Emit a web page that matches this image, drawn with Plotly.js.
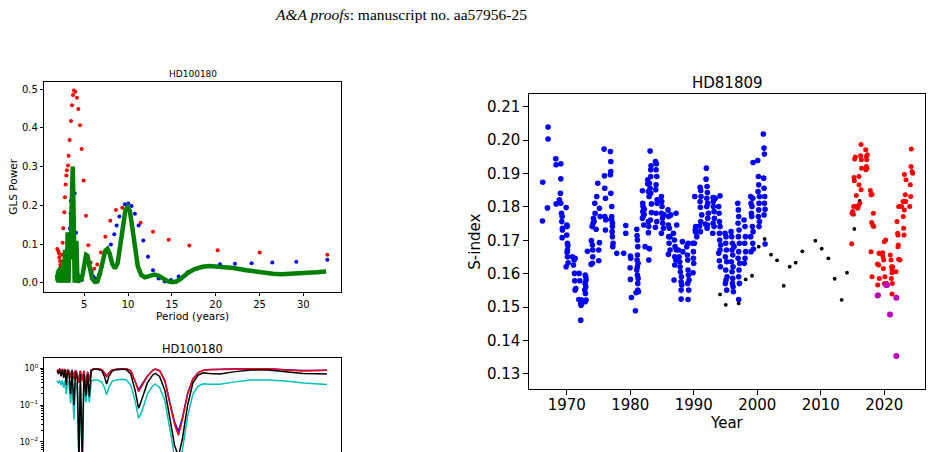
<!DOCTYPE html>
<html>
<head>
<meta charset="utf-8">
<script src="https://cdn.plot.ly/plotly-3.0.1.min.js"></script>
<style>
  html, body { margin: 0; padding: 0; background: #fff; overflow: hidden; }
  #fig { width: 932px; height: 452px; }
</style>
</head>
<body>
<div id="fig"></div>
<script>
// ---------- HD100180: GLS periodogram ----------
const glsRedPeriod = [1.92, 2.03, 2.11, 2.15, 2.22, 2.26, 2.34, 2.45, 2.53, 2.60, 2.72, 2.79, 2.87, 2.95, 3.02, 3.14, 3.21, 3.33, 3.48, 3.59, 3.71, 3.82, 3.97, 4.16, 4.32, 4.51, 4.70, 4.92, 5.19, 5.46, 5.72, 6.14, 6.48, 6.90, 7.40, 7.97, 8.61, 9.34, 11.43, 12.84, 14.63, 16.99, 20.22, 25.02, 32.74];
const glsRedPower  = [0.087, 0.082, 0.076, 0.066, 0.056, 0.046, 0.041, 0.072, 0.103, 0.141, 0.182, 0.221, 0.254, 0.277, 0.291, 0.303, 0.328, 0.369, 0.418, 0.459, 0.485, 0.497, 0.494, 0.478, 0.449, 0.407, 0.346, 0.264, 0.173, 0.097, 0.052, 0.036, 0.047, 0.078, 0.119, 0.160, 0.188, 0.194, 0.155, 0.132, 0.111, 0.096, 0.084, 0.078, 0.072];

const glsBluePeriod = [3.36, 3.44, 3.48, 3.90, 4.05, 4.20, 4.35, 4.73, 5.38, 5.57, 5.84, 6.03, 6.26, 6.64, 6.98, 8.04, 8.42, 8.69, 9.00, 9.64, 10.02, 10.40, 10.78, 11.20, 11.74, 12.27, 12.84, 13.49, 14.17, 14.89, 15.77, 16.80, 20.49, 22.20, 24.10, 26.46, 29.20, 32.74];
const glsBluePower  = [0.140, 0.179, 0.212, 0.231, 0.129, 0.024, 0.016, 0.007, 0.060, 0.043, 0.028, 0.016, 0.011, 0.020, 0.041, 0.099, 0.125, 0.148, 0.171, 0.203, 0.205, 0.198, 0.178, 0.148, 0.109, 0.067, 0.032, 0.011, 0.003, 0.007, 0.016, 0.027, 0.048, 0.049, 0.050, 0.052, 0.054, 0.059];

const glsGreenPeriod = [1.90, 1.95, 2.00, 2.05, 2.10, 2.17, 2.25, 2.32, 2.40, 2.50, 2.60, 2.70, 2.80, 2.90, 3.00, 3.10, 3.20, 3.30, 3.40, 3.50, 3.60, 3.68, 3.75, 3.82, 3.90, 4.00, 4.10, 4.20, 4.30, 4.45, 4.60, 4.80, 5.00, 5.20, 5.35, 5.60, 5.90, 6.20, 6.50, 6.80, 7.10, 7.40, 7.65, 7.90, 8.20, 8.50, 8.80, 9.10, 9.40, 9.70, 9.95, 10.20, 10.50, 10.80, 11.10, 11.50, 11.90, 12.40, 13.00, 13.50, 14.00, 14.50, 15.00, 15.50, 16.00, 16.80, 17.60, 18.50, 19.30, 20.50, 22.00, 23.50, 25.00, 26.50, 27.50, 29.00, 30.50, 31.50, 32.60];
const glsGreenPower  = [0.020, 0.005, 0.030, 0.000, 0.035, 0.010, 0.040, 0.000, 0.020, 0.005, 0.060, 0.000, 0.085, 0.000, 0.020, 0.130, 0.000, 0.130, 0.060, 0.150, 0.260, 0.300, 0.220, 0.050, 0.000, 0.090, 0.108, 0.020, 0.000, 0.015, 0.005, 0.020, 0.050, 0.072, 0.070, 0.040, 0.010, 0.002, 0.003, 0.025, 0.060, 0.083, 0.088, 0.075, 0.048, 0.037, 0.050, 0.095, 0.150, 0.188, 0.196, 0.185, 0.140, 0.085, 0.043, 0.020, 0.014, 0.017, 0.021, 0.018, 0.010, 0.004, 0.001, 0.003, 0.010, 0.025, 0.035, 0.041, 0.043, 0.042, 0.038, 0.032, 0.027, 0.023, 0.022, 0.023, 0.025, 0.027, 0.029];

// ---------- HD100180: false-alarm curves ----------
const fapPeriod = [1.90, 2.05, 2.20, 2.35, 2.50, 2.65, 2.80, 2.95, 3.10, 3.25, 3.44, 3.60, 3.82, 4.00, 4.20, 4.39, 4.55, 4.77, 4.95, 5.19, 5.38, 5.57, 5.80, 6.10, 6.50, 7.00, 7.30, 7.55, 7.80, 8.20, 8.70, 9.30, 9.80, 10.30, 10.80, 11.20, 11.60, 12.20, 12.80, 13.10, 13.60, 14.20, 14.80, 15.30, 15.75, 16.20, 16.80, 17.40, 18.00, 18.60, 19.30, 20.50, 22.00, 24.00, 26.00, 28.00, 30.00, 32.70];
const fapBlue  = [0.90, 0.85, 0.95, 0.80, 0.95, 0.78, 0.95, 0.62, 0.93, 0.85, 0.57, 0.90, 0.52, 0.88, 0.70, 0.42, 0.85, 0.47, 0.85, 0.32, 0.80, 0.45, 0.90, 0.97, 0.98, 0.92, 0.76, 0.60, 0.76, 0.90, 0.95, 0.98, 0.97, 0.86, 0.47, 0.26, 0.37, 0.62, 0.88, 0.95, 0.86, 0.47, 0.11, 0.035, 0.019, 0.045, 0.21, 0.52, 0.76, 0.88, 0.93, 0.96, 0.96, 0.97, 0.97, 0.92, 0.87, 0.89];
const fapRed   = [0.90, 0.85, 0.95, 0.80, 0.95, 0.78, 0.95, 0.60, 0.93, 0.85, 0.55, 0.90, 0.50, 0.88, 0.70, 0.40, 0.85, 0.45, 0.85, 0.30, 0.80, 0.45, 0.90, 0.97, 0.98, 0.92, 0.75, 0.59, 0.75, 0.90, 0.95, 0.98, 0.97, 0.85, 0.45, 0.23, 0.35, 0.60, 0.88, 0.95, 0.85, 0.45, 0.10, 0.030, 0.015, 0.040, 0.20, 0.50, 0.75, 0.88, 0.92, 0.95, 0.95, 0.97, 0.97, 0.90, 0.85, 0.88];
const fapBlack = [0.85, 0.70, 0.90, 0.60, 0.90, 0.55, 0.90, 0.35, 0.85, 0.70, 0.20, 0.85, 0.10, 0.80, 0.50, 0.003, 0.70, 0.003, 0.70, 0.18, 0.70, 0.17, 0.85, 0.95, 0.95, 0.85, 0.60, 0.37, 0.60, 0.85, 0.92, 0.95, 0.92, 0.70, 0.25, 0.081, 0.15, 0.40, 0.65, 0.73, 0.60, 0.25, 0.04, 0.008, 0.004, 0.012, 0.10, 0.40, 0.65, 0.75, 0.72, 0.70, 0.80, 0.90, 0.90, 0.80, 0.72, 0.70];
const fapCyan  = [0.45, 0.40, 0.47, 0.35, 0.47, 0.30, 0.47, 0.20, 0.45, 0.38, 0.11, 0.45, 0.04, 0.40, 0.25, 0.002, 0.35, 0.002, 0.35, 0.12, 0.40, 0.12, 0.45, 0.48, 0.48, 0.42, 0.30, 0.19, 0.30, 0.45, 0.48, 0.50, 0.48, 0.35, 0.13, 0.043, 0.07, 0.20, 0.33, 0.37, 0.30, 0.13, 0.02, 0.004, 0.002, 0.006, 0.05, 0.20, 0.33, 0.38, 0.37, 0.37, 0.42, 0.48, 0.48, 0.45, 0.40, 0.36];

// ---------- HD81809: S-index time series ----------
// Mount Wilson seasons (blue)
const blueYear = [
  1966.22, 1966.17, 1967.06, 1967.06, 1966.96, 1968.27, 1968.32, 1968.32,
  1969.06, 1969.06, 1969.00, 1968.85, 1969.06, 1969.16, 1969.27, 1969.21, 1969.32, 1969.32, 1969.27,
  1969.90, 1970.00, 1970.05, 1970.00, 1970.10, 1970.16, 1970.10, 1970.05, 1970.10, 1970.21, 1969.90,
  1970.89, 1971.15, 1971.05, 1971.31, 1971.21, 1971.26, 1971.42, 1971.31,
  1971.94, 1972.05, 1971.89, 1972.20, 1972.26, 1972.36, 1972.20,
  1972.89, 1972.99, 1973.04, 1972.89, 1972.99, 1972.83, 1972.94, 1973.04, 1972.89, 1973.25,
  1973.83, 1973.88, 1974.04, 1974.09, 1974.09, 1974.04, 1973.99, 1974.14, 1974.20, 1974.30,
  1974.41, 1974.46, 1974.62, 1974.72, 1974.88, 1975.14, 1975.25, 1975.04, 1975.14, 1975.04,
  1975.88, 1975.93, 1975.98, 1976.09, 1975.98, 1976.14, 1976.09, 1976.19,
  1976.87, 1976.93, 1976.93, 1976.87, 1976.93, 1977.08, 1977.08, 1977.19, 1977.14, 1977.19, 1977.29, 1977.24, 1977.08, 1977.19,
  1977.87, 1978.97, 1979.29, 1979.29, 1980.02, 1980.07, 1979.97, 1980.02, 1980.18,
  1980.81, 1981.02, 1981.07, 1981.12, 1981.18, 1981.12, 1981.07, 1981.23, 1981.12, 1981.02, 1981.12, 1981.23, 1981.18, 1981.18, 1981.28, 1980.91,
  1981.91, 1981.96, 1982.01, 1981.96, 1982.07, 1981.91, 1982.12, 1982.22, 1982.33, 1982.17,
  1982.75, 1982.75, 1982.85, 1982.96, 1982.85, 1982.91, 1982.85, 1982.91,
  1983.12, 1983.27, 1983.22, 1983.22, 1983.01, 1983.12, 1983.22, 1983.01, 1983.33, 1983.33, 1983.17,
  1983.96, 1984.11, 1984.06, 1984.17, 1984.06, 1984.01, 1984.22, 1984.06, 1984.17, 1983.96, 1984.22,
  1984.90, 1984.95, 1985.00, 1984.90, 1985.06, 1985.11, 1985.22, 1984.90, 1985.32,
  1985.95, 1986.05, 1986.00, 1986.16, 1986.05, 1986.11, 1986.26, 1986.37, 1986.26, 1986.00,
  1986.79, 1986.95, 1987.05, 1987.00, 1987.16, 1987.00, 1987.21, 1987.31, 1987.26, 1986.89,
  1987.58, 1987.68, 1987.79, 1987.84, 1987.89, 1988.05, 1988.00, 1988.00, 1988.00, 1988.10, 1988.21, 1988.26,
  1988.89, 1988.99, 1989.04, 1989.10, 1989.15, 1989.04, 1989.20, 1989.10, 1989.25, 1989.10,
  1989.83, 1989.94, 1989.94, 1989.99, 1989.88, 1990.10, 1990.15, 1990.30, 1990.25, 1990.25, 1990.46,
  1990.99, 1991.09, 1991.14, 1990.99, 1991.04, 1991.25, 1991.09, 1990.93, 1991.04,
  1991.98, 1991.93, 1992.09, 1992.14, 1992.04, 1992.19, 1992.04, 1992.30, 1992.19, 1992.14, 1992.09, 1991.83,
  1993.03, 1993.08, 1993.08, 1993.19, 1993.24, 1993.03, 1993.19, 1992.98, 1993.40,
  1993.92, 1993.98, 1994.03, 1994.13, 1994.03, 1994.08, 1994.24, 1994.13, 1993.92, 1994.03, 1994.19, 1994.13,
  1994.92, 1995.08, 1995.03, 1995.13, 1994.97, 1995.18, 1995.03, 1995.24, 1995.08, 1995.18, 1994.97,
  1995.87, 1995.97, 1996.08, 1996.02, 1996.13, 1995.92, 1996.18, 1996.02, 1996.13, 1996.08, 1996.18, 1996.23, 1996.34,
  1996.92, 1997.02, 1997.07, 1996.97, 1997.12, 1997.02, 1997.18, 1997.07, 1996.97, 1997.23, 1997.12, 1997.07, 1997.18, 1997.07,
  1997.91, 1998.07, 1998.12, 1998.02, 1998.17, 1998.07, 1997.96,
  1998.96, 1999.01, 1999.17, 1999.07, 1999.28, 1999.12, 1999.22, 1999.33, 1998.96, 1999.28, 1999.38, 1999.01, 1999.33,
  2000.06, 2000.17, 2000.22, 2000.12, 2000.33, 2000.27, 2000.22, 2000.17, 2000.33, 2000.27,
  2000.95, 2001.06, 2001.11, 2001.00, 2001.06, 2001.16, 2001.11, 2001.22, 2001.06, 2001.22
];
const blueS = [
  0.1874, 0.1758, 0.2039, 0.2003, 0.1797, 0.1944, 0.1926, 0.1809,
  0.1929, 0.1884, 0.1841, 0.1821, 0.1811, 0.1781, 0.1771, 0.1756, 0.1736, 0.1731, 0.1708,
  0.1798, 0.1746, 0.1741, 0.1716, 0.1691, 0.1684, 0.1671, 0.1664, 0.1651, 0.1633, 0.1621,
  0.1651, 0.1641, 0.1626, 0.1646, 0.1601, 0.1579, 0.1556, 0.1551,
  0.1601, 0.1579, 0.1523, 0.1511, 0.1506, 0.1521, 0.1461,
  0.1596, 0.1591, 0.1581, 0.1571, 0.1561, 0.1551, 0.1541, 0.1521, 0.1516, 0.1667,
  0.1628, 0.1699, 0.1686, 0.1671, 0.1651, 0.1631, 0.1741, 0.1751, 0.1766, 0.1756,
  0.1811, 0.1781, 0.1733, 0.1831, 0.1871, 0.1796, 0.1771, 0.1639, 0.1693, 0.1671,
  0.1973, 0.1893, 0.1856, 0.1826, 0.1771, 0.1761, 0.1731, 0.1763,
  0.1966, 0.1936, 0.1906, 0.1896, 0.1841, 0.1801, 0.1771, 0.1741, 0.1726, 0.1711, 0.1691, 0.1681, 0.1761, 0.1751,
  0.1661, 0.1661, 0.1744, 0.1721, 0.1653, 0.1646, 0.1618, 0.1583, 0.1529,
  0.1489, 0.1733, 0.1714, 0.1701, 0.1681, 0.1656, 0.1641, 0.1631, 0.1621, 0.1611, 0.1596, 0.1586, 0.1571, 0.1551, 0.1546, 0.1543,
  0.1848, 0.1811, 0.1801, 0.1786, 0.1773, 0.1766, 0.1746, 0.1793, 0.1681, 0.1778,
  0.1881, 0.1869, 0.1846, 0.1831, 0.1756, 0.1741, 0.1723, 0.1641,
  0.1967, 0.1923, 0.1911, 0.1891, 0.1871, 0.1856, 0.1841, 0.1675, 0.1809, 0.1783, 0.1761,
  0.1936, 0.1929, 0.1911, 0.1891, 0.1866, 0.1851, 0.1811, 0.1781, 0.1756, 0.1739, 0.1821,
  0.1831, 0.1816, 0.1801, 0.1781, 0.1766, 0.1751, 0.1736, 0.1721, 0.1776,
  0.1791, 0.1771, 0.1746, 0.1736, 0.1711, 0.1691, 0.1671, 0.1776, 0.1711, 0.1658,
  0.1721, 0.1701, 0.1681, 0.1651, 0.1641, 0.1626, 0.1781, 0.1746, 0.1671, 0.1581,
  0.1671, 0.1651, 0.1636, 0.1621, 0.1606, 0.1591, 0.1576, 0.1551, 0.1524, 0.1566, 0.1696, 0.1666,
  0.1681, 0.1656, 0.1641, 0.1611, 0.1596, 0.1571, 0.1551, 0.1523, 0.1581, 0.1691,
  0.1691, 0.1666, 0.1646, 0.1631, 0.1603, 0.1691, 0.1831, 0.1741, 0.1733, 0.1726, 0.1711,
  0.1859, 0.1849, 0.1831, 0.1816, 0.1799, 0.1776, 0.1756, 0.1743, 0.1726,
  0.1916, 0.1883, 0.1861, 0.1843, 0.1826, 0.1811, 0.1801, 0.1781, 0.1766, 0.1746, 0.1736, 0.1749,
  0.1828, 0.1816, 0.1801, 0.1786, 0.1766, 0.1751, 0.1741, 0.1721, 0.1826,
  0.1801, 0.1781, 0.1756, 0.1741, 0.1721, 0.1701, 0.1686, 0.1671, 0.1661, 0.1639, 0.1621, 0.1833,
  0.1721, 0.1711, 0.1691, 0.1671, 0.1651, 0.1636, 0.1611, 0.1591, 0.1581, 0.1551, 0.1571,
  0.1726, 0.1711, 0.1691, 0.1671, 0.1656, 0.1636, 0.1621, 0.1606, 0.1586, 0.1571, 0.1561, 0.1546, 0.1681,
  0.1811, 0.1791, 0.1771, 0.1751, 0.1731, 0.1711, 0.1691, 0.1666, 0.1646, 0.1631, 0.1611, 0.1591, 0.1571, 0.1523,
  0.1761, 0.1741, 0.1711, 0.1691, 0.1666, 0.1646, 0.1631,
  0.1831, 0.1811, 0.1801, 0.1781, 0.1826, 0.1771, 0.1741, 0.1726, 0.1711, 0.1691, 0.1674, 0.1666, 0.1933,
  0.1939, 0.1891, 0.1866, 0.1846, 0.1831, 0.1811, 0.1791, 0.1771, 0.1756, 0.1741,
  0.2018, 0.1976, 0.1958, 0.1886, 0.1856, 0.1831, 0.1811, 0.1793, 0.1776, 0.1689
];

// Seasonal means from other observatories (black)
const blackYear = [1998.17, 1999.17, 1994.13, 1995.03, 1997.07, 2000.22, 2001.16, 2002.16, 2003.11, 2004.16, 2005.10, 2006.04, 2007.09, 2009.14, 2010.14, 2011.19, 2012.18, 2013.28, 2014.12, 2015.28, 2016.12];
const blackS    = [0.1583, 0.1594, 0.1538, 0.1507, 0.1511, 0.1681, 0.1704, 0.1657, 0.1640, 0.1564, 0.1621, 0.1633, 0.1667, 0.1699, 0.1675, 0.1646, 0.1585, 0.1522, 0.1603, 0.1734, 0.1818];

// Recent spectroscopic measurements (red)
const redYear = [
  2014.86, 2014.91, 2015.02, 2015.12, 2015.17, 2015.23, 2015.28, 2015.33, 2015.44, 2015.54, 2015.59, 2015.80, 2015.91,
  2016.01, 2016.27, 2016.33, 2016.38, 2016.43, 2016.33, 2016.01, 2016.12,
  2017.06, 2017.17, 2017.22, 2017.27, 2017.11, 2017.32, 2017.17,
  2017.80, 2017.90, 2018.06, 2018.01, 2018.16, 2018.27, 2018.32, 2017.90, 2018.06,
  2018.95, 2018.90, 2019.11, 2019.16, 2019.26, 2019.21, 2019.06,
  2019.74, 2019.79, 2019.90, 2019.84, 2020.00, 2020.21, 2020.10, 2020.00, 2020.37,
  2020.94, 2021.05, 2021.15, 2021.21, 2021.21, 2021.10, 2021.26, 2021.21, 2021.31,
  2021.84, 2021.99, 2022.10, 2022.15, 2022.20, 2022.15, 2022.26, 2022.26, 2022.46,
  2022.73, 2022.94, 2022.99, 2023.04, 2023.10, 2023.15, 2023.20, 2023.31, 2023.36, 2023.15, 2023.41,
  2023.99, 2024.09, 2024.15, 2024.20, 2024.25, 2024.36, 2024.46
];
const redS = [
  0.1690, 0.1781, 0.1786, 0.1778, 0.1801, 0.1888, 0.1878, 0.1943, 0.1949, 0.1801, 0.1834, 0.1796, 0.1803,
  0.1866, 0.1953, 0.1987, 0.1941, 0.1916, 0.1851, 0.1891, 0.1811,
  0.1971, 0.1951, 0.1941, 0.1916, 0.1911, 0.1956, 0.1921,
  0.1849, 0.1836, 0.1837, 0.1753, 0.1746, 0.1781, 0.1741, 0.1666, 0.1591,
  0.1566, 0.1629, 0.1626, 0.1661, 0.1661, 0.1586, 0.1536,
  0.1663, 0.1651, 0.1641, 0.1616, 0.1696, 0.1701, 0.1591, 0.1571, 0.1571,
  0.1656, 0.1641, 0.1621, 0.1613, 0.1603, 0.1586, 0.1571, 0.1539, 0.1621,
  0.1606, 0.1756, 0.1721, 0.1716, 0.1686, 0.1681, 0.1643, 0.1801, 0.1641,
  0.1801, 0.1816, 0.1771, 0.1736, 0.1716, 0.1791, 0.1816, 0.1836, 0.1816, 0.1897, 0.1881,
  0.1801, 0.1866, 0.1831, 0.1921, 0.1973, 0.1906, 0.1901
];

// Individual low-activity measurements (magenta)
const magentaYear = [2018.95, 2020.26, 2020.42, 2020.89, 2021.89, 2021.89];
const magentaS    = [0.1535, 0.1566, 0.1566, 0.1478, 0.1528, 0.1354];

// Tick values
const glsPeriodTicks = [5, 10, 15, 20, 25, 30];
const glsPowerTicks  = [0.0, 0.1, 0.2, 0.3, 0.4, 0.5];
const yearTicks      = [1970, 1980, 1990, 2000, 2010, 2020];
const sIndexTicks    = [0.13, 0.14, 0.15, 0.16, 0.17, 0.18, 0.19, 0.20, 0.21];
const fapTickVals    = [0.01, 0.1, 1];
const fapTickText    = ['10<sup>−2</sup>', '10<sup>−1</sup>', '10<sup>0</sup>'];

// ---------- layout helpers (pixel -> paper) ----------
const W = 932, H = 452;
const px = x => x / W;
const py = y => 1 - y / H;
const FONT = 'DejaVu Sans, sans-serif';

const fapMinor = [];
for (let d = -3; d <= 0; d++) for (let k = 2; k <= 9; k++) fapMinor.push(k * Math.pow(10, d));

const frame = {
  showline: true, mirror: true, linecolor: '#000', linewidth: 1,
  showgrid: false, zeroline: false, ticks: 'outside', tickcolor: '#000', tickwidth: 1
};

const traces = [
  // GLS periodogram
  { type: 'scatter', mode: 'markers', x: glsRedPeriod, y: glsRedPower, xaxis: 'x', yaxis: 'y',
    marker: { color: '#ff0000', size: 4 }, hoverinfo: 'skip' },
  { type: 'scatter', mode: 'markers', x: glsBluePeriod, y: glsBluePower, xaxis: 'x', yaxis: 'y',
    marker: { color: '#0000ff', size: 4 }, hoverinfo: 'skip' },
  { type: 'scatter', mode: 'lines', x: glsGreenPeriod, y: glsGreenPower, xaxis: 'x', yaxis: 'y',
    line: { color: '#008000', width: 4.5 }, hoverinfo: 'skip' },

  // false-alarm curves
  { type: 'scatter', mode: 'lines', x: fapPeriod, y: fapCyan, xaxis: 'x3', yaxis: 'y3',
    line: { color: '#00bfbf', width: 1.5 }, hoverinfo: 'skip' },
  { type: 'scatter', mode: 'lines', x: fapPeriod, y: fapBlue, xaxis: 'x3', yaxis: 'y3',
    line: { color: '#0000ff', width: 1.5 }, hoverinfo: 'skip' },
  { type: 'scatter', mode: 'lines', x: fapPeriod, y: fapRed, xaxis: 'x3', yaxis: 'y3',
    line: { color: '#ff0000', width: 1.5 }, hoverinfo: 'skip' },
  { type: 'scatter', mode: 'lines', x: fapPeriod, y: fapBlack, xaxis: 'x3', yaxis: 'y3',
    line: { color: '#000000', width: 1.5 }, hoverinfo: 'skip' },

  // HD81809 S-index
  { type: 'scatter', mode: 'markers', x: blueYear, y: blueS, xaxis: 'x2', yaxis: 'y2',
    marker: { color: '#0000ff', size: 5.6 }, hoverinfo: 'skip' },
  { type: 'scatter', mode: 'markers', x: blackYear, y: blackS, xaxis: 'x2', yaxis: 'y2',
    marker: { color: '#000000', size: 3.8 }, hoverinfo: 'skip' },
  { type: 'scatter', mode: 'markers', x: redYear, y: redS, xaxis: 'x2', yaxis: 'y2',
    marker: { color: '#ff0000', size: 5 }, hoverinfo: 'skip' },
  { type: 'scatter', mode: 'markers', x: magentaYear, y: magentaS, xaxis: 'x2', yaxis: 'y2',
    marker: { color: '#bf00bf', size: 6 }, hoverinfo: 'skip' }
];

const ann = (text, x, y, size, extra) => Object.assign({
  text, x: px(x), y: py(y), xref: 'paper', yref: 'paper', showarrow: false,
  xanchor: 'center', yanchor: 'middle', font: { family: FONT, size, color: '#000' }
}, extra || {});

const layout = {
  width: W, height: H,
  margin: { l: 0, r: 0, t: 0, b: 0 },
  paper_bgcolor: '#fff', plot_bgcolor: '#fff',
  showlegend: false,
  font: { family: FONT, color: '#000' },

  xaxis: Object.assign({}, frame, {
    domain: [px(44.3), px(340.7)], anchor: 'y', range: [0.434, 34.27],
    tickvals: glsPeriodTicks, ticklen: 3.5, tickfont: { size: 10 }
  }),
  yaxis: Object.assign({}, frame, {
    domain: [py(291.7), py(81.7)], anchor: 'x', range: [-0.0233, 0.5197],
    tickvals: glsPowerTicks, tickformat: '.1f', ticklen: 3.5, tickfont: { size: 10 }
  }),

  xaxis2: Object.assign({}, frame, {
    domain: [px(529.3), px(925.3)], anchor: 'y2', range: [1964.1, 2026.45],
    tickvals: yearTicks, ticklen: 5, tickfont: { size: 15 }, ticklabelstandoff: -3
  }),
  yaxis2: Object.assign({}, frame, {
    domain: [py(389), py(94.3)], anchor: 'x2', range: [0.1255, 0.2137],
    tickvals: sIndexTicks, tickformat: '.2f', ticklen: 5, tickfont: { size: 15 }
  }),

  xaxis3: {
    domain: [px(44.3), px(340.7)], anchor: 'y3', range: [0.434, 34.27], side: 'top',
    showline: true, linecolor: '#000', linewidth: 1, showgrid: false, zeroline: false,
    ticks: '', showticklabels: false
  },
  yaxis3: {
    domain: [0, py(358)], anchor: 'x3', type: 'log', range: [-2.281, 0.281],
    showline: true, mirror: true, linecolor: '#000', linewidth: 1, showgrid: false, zeroline: false,
    ticks: 'outside', ticklen: 3.5, tickcolor: '#000', tickwidth: 1,
    tickvals: fapTickVals, ticktext: fapTickText, tickfont: { size: 8 },
    minor: { tickvals: fapMinor, ticks: 'outside', ticklen: 2, tickcolor: '#000', showgrid: false }
  },

  annotations: [
    ann('<i>A&amp;A proofs</i>: manuscript no. aa57956-25', 401, 14, 15.5,
        { font: { family: 'Liberation Serif, Times New Roman, serif', size: 15.5, color: '#000' } }),
    ann('HD100180', 192.5, 74, 9),
    ann('GLS Power', 13, 186.7, 10.5, { textangle: -90 }),
    ann('Period (years)', 192.5, 316, 10.5),
    ann('HD100180', 192.5, 349.3, 11.4),
    ann('HD81809', 727, 82.7, 15),
    ann('S-index', 475, 241.7, 15, { textangle: -90 }),
    ann('Year', 727, 423, 15)
  ]
};

Plotly.newPlot('fig', traces, layout, { staticPlot: true, displayModeBar: false });
</script>
</body>
</html>
